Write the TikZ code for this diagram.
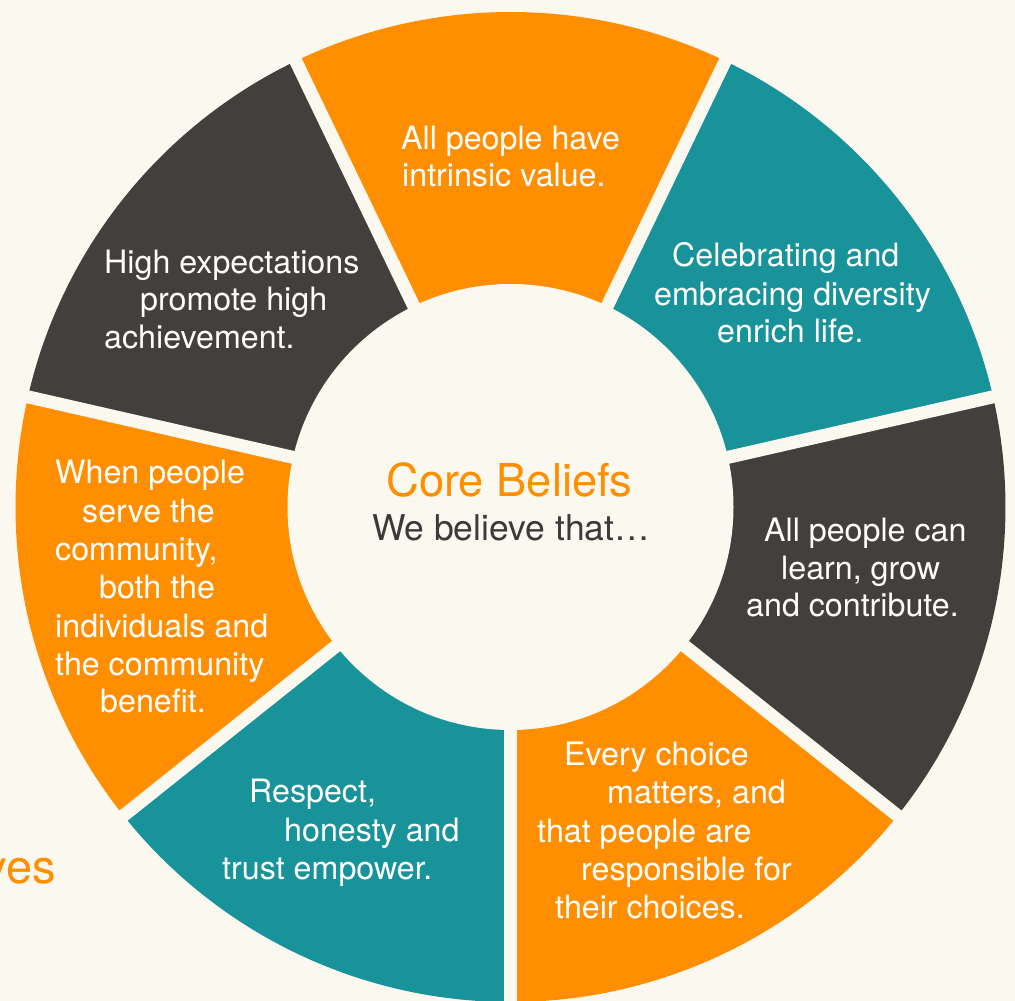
\documentclass[tikz,border=0pt]{standalone}
\usepackage{fontspec}
\setmainfont{TeX Gyre Heros}
\usetikzlibrary{calc}
\definecolor{bgc}{RGB}{251,248,240}
\definecolor{orng}{RGB}{255,142,0}
\definecolor{tealc}{RGB}{24,147,154}
\definecolor{darkc}{RGB}{67,63,60}
\definecolor{txtgray}{RGB}{58,58,58}
\begin{document}
\begin{tikzpicture}[x=1pt,y=-1pt,
  gapline/.style={draw=bgc,line width=13pt},
  ln/.style={text=white,anchor=base west,inner sep=0pt,font=\fontsize{32.2}{36}\selectfont},
]
\fill[bgc] (0,0) rectangle (1015,1001);
\useasboundingbox (0,0) rectangle (1015,1001);
\coordinate (C) at (510.5,507);
\foreach \a/\b/\c in {64.29/115.71/orng, 115.71/167.14/darkc, 167.14/218.57/orng, 218.57/270/tealc, 270/321.43/orng, 321.43/372.86/darkc, 12.86/64.29/tealc}{
  \fill[\c] (C) -- ++(-\a:495) arc[start angle=-\a, end angle=-\b, radius=495] -- cycle;
}
\foreach \a in {12.86,64.29,115.71,167.14,218.57,270,321.43}{
  \draw[gapline] (C) -- ++(-\a:506);
}
\node[circle, fill=bgc, minimum size=446pt, inner sep=0pt] (core) at (C) {};
\node[font=\fontsize{45.3}{50}\selectfont, text=orng, anchor=base, inner sep=0pt] (title) at (509.5,496) {Core Beliefs};
\node[font=\fontsize{35.5}{40}\selectfont, text=txtgray, anchor=base, inner sep=0pt] (sub) at (511,540) {We believe that…};
% top
\node[ln] (a1) at (401,149) {All people have};
\node[ln] (a2) at (402,186) {intrinsic value.};
% upper right
\node[ln] (b1) at (672,266) {Celebrating and};
\node[ln] (b2) at (654,305) {embracing diversity};
\node[ln] (b3) at (717,342) {enrich life.};
% right
\node[ln] (c1) at (764,541) {All people can};
\node[ln] (c2) at (781,579) {learn, grow};
\node[ln] (c3) at (746,616) {and contribute.};
% bottom right
\node[ln] (d1) at (564,765) {Every choice};
\node[ln] (d2) at (607,803) {matters, and};
\node[ln] (d3) at (537,842) {that people are};
\node[ln] (d4) at (581,880) {responsible for};
\node[ln] (d5) at (555,918) {their choices.};
% bottom left
\node[ln] (e1) at (249,802) {Respect,};
\node[ln] (e2) at (284,841) {honesty and};
\node[ln] (e3) at (222,879) {trust empower.};
% left
\node[ln] (f1) at (55,483) {When people};
\node[ln] (f2) at (82,522) {serve the};
\node[ln] (f3) at (55,560) {community,};
\node[ln] (f4) at (99,598) {both the};
\node[ln] (f5) at (55,637) {individuals and};
\node[ln] (f6) at (55,675) {the community};
\node[ln] (f7) at (100,712) {benefit.};
% upper left
\node[ln] (g1) at (104,273) {High expectations};
\node[ln] (g2) at (140,310) {promote high};
\node[ln] (g3) at (104,348) {achievement.};
% cropped word
\node[font=\fontsize{47}{52}\selectfont, text=orng, anchor=base east, inner sep=0pt] (ves) at (56,883) {ves};
\end{tikzpicture}
\end{document}
